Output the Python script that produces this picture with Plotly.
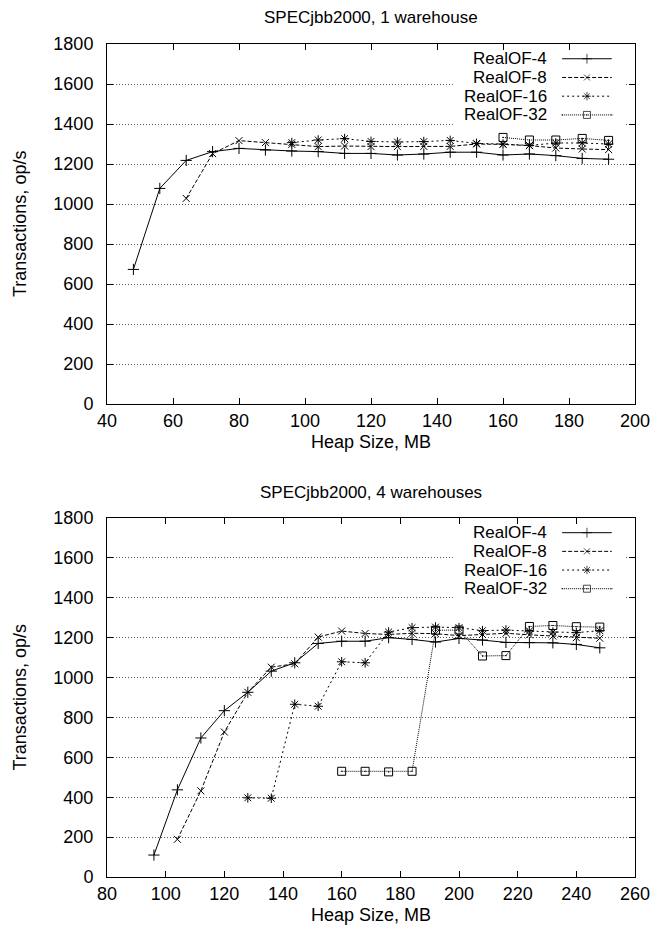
import plotly.graph_objects as go

# ---------------- data ----------------
series_names = ["RealOF-4", "RealOF-8", "RealOF-16", "RealOF-32"]

# Chart 1: SPECjbb2000, 1 warehouse
heap_1_of4 = [48, 56, 64, 72, 80, 88, 96, 104, 112, 120, 128, 136, 144, 152, 160, 168, 176, 184, 192]
tps_1_of4 = [673, 1078, 1218, 1262, 1278, 1270, 1265, 1262, 1253, 1253, 1245, 1250, 1259, 1259, 1245, 1250, 1242, 1228, 1224]
heap_1_of8 = [64, 72, 80, 88, 96, 104, 112, 120, 128, 136, 144, 152, 160, 168, 176, 184, 192]
tps_1_of8 = [1028, 1252, 1317, 1307, 1298, 1287, 1290, 1287, 1287, 1288, 1288, 1300, 1298, 1292, 1280, 1275, 1272]
heap_1_of16 = [96, 104, 112, 120, 128, 136, 144, 152, 160, 168, 176, 184, 192]
tps_1_of16 = [1307, 1320, 1327, 1313, 1310, 1312, 1318, 1303, 1300, 1293, 1305, 1305, 1300]
heap_1_of32 = [160, 168, 176, 184, 192]
tps_1_of32 = [1333, 1320, 1320, 1328, 1318]

# Chart 2: SPECjbb2000, 4 warehouses
heap_4_of4 = [96, 104, 112, 120, 128, 136, 144, 152, 160, 168, 176, 184, 192, 200, 208, 216, 224, 232, 240, 248]
tps_4_of4 = [110, 437, 697, 834, 926, 1032, 1074, 1171, 1182, 1182, 1200, 1191, 1178, 1196, 1188, 1176, 1175, 1174, 1166, 1149]
heap_4_of8 = [104, 112, 120, 128, 136, 144, 152, 160, 168, 176, 184, 192, 200, 208, 216, 224, 232, 240, 248]
tps_4_of8 = [189, 432, 727, 926, 1052, 1069, 1203, 1233, 1221, 1216, 1222, 1220, 1210, 1216, 1222, 1214, 1208, 1200, 1197]
heap_4_of16 = [128, 136, 144, 152, 160, 168, 176, 184, 192, 200, 208, 216, 224, 232, 240, 248]
tps_4_of16 = [397, 395, 866, 856, 1079, 1074, 1228, 1250, 1253, 1250, 1235, 1238, 1233, 1228, 1225, 1235]
heap_4_of32 = [160, 168, 176, 184, 192, 200, 208, 216, 224, 232, 240, 248]
tps_4_of32 = [530, 530, 527, 530, 1237, 1238, 1108, 1110, 1256, 1261, 1255, 1253]

titles = ["SPECjbb2000, 1 warehouse", "SPECjbb2000, 4 warehouses"]
x_title = "Heap Size, MB"
y_title = "Transactions, op/s"

# ---------------- styles ----------------
FONT = "Liberation Sans, Arial, sans-serif"
FS = 18
FS_KEY = 17
dashes = ["solid", "4px,2px", "2px,3px", "1px,1px"]
symbols = ["cross-thin-open", "x-thin-open", "asterisk-open", "square-open-dot"]
msizes = [8, 7, 8, 8]

charts = [
    ([heap_1_of4, heap_1_of8, heap_1_of16, heap_1_of32], [tps_1_of4, tps_1_of8, tps_1_of16, tps_1_of32]),
    ([heap_4_of4, heap_4_of8, heap_4_of16, heap_4_of32], [tps_4_of4, tps_4_of8, tps_4_of16, tps_4_of32]),
]

fig = go.Figure()

axis_ids = [("x", "y", "x3", "y3"), ("x2", "y2", "x4", "y4")]
rows_y = [0.959, 0.907, 0.855, 0.803]

for ci, (xs_list, ys_list) in enumerate(charts):
    xa, ya, lxa, lya = axis_ids[ci]
    for si in range(4):
        fig.add_trace(go.Scatter(
            x=xs_list[si], y=ys_list[si], mode="lines+markers",
            xaxis=xa, yaxis=ya, showlegend=False, name=series_names[si],
            line=dict(color="black", width=1, dash=dashes[si]),
            marker=dict(symbol=symbols[si], size=msizes[si], color="black",
                        line=dict(color="black", width=1)),
        ))
    # white key box (covers gridlines, drawn on overlay axes)
    fig.add_trace(go.Scatter(
        x=[0.655, 0.979, 0.979, 0.655, 0.655], y=[0.772, 0.772, 0.994, 0.994, 0.772],
        mode="lines", fill="toself", fillcolor="white", line=dict(width=0, color="white"),
        xaxis=lxa, yaxis=lya, showlegend=False, hoverinfo="skip",
    ))
    # custom gnuplot-like key (text left, sample right)
    for si in range(4):
        fig.add_trace(go.Scatter(
            x=[0.862, 0.909, 0.956], y=[rows_y[si]] * 3, mode="lines+markers",
            xaxis=lxa, yaxis=lya, showlegend=False, hoverinfo="skip",
            line=dict(color="black", width=1, dash=dashes[si]),
            marker=dict(symbol=symbols[si], size=[0, msizes[si] - 1, 0], color="black",
                        line=dict(color="black", width=1)),
        ))
        fig.add_annotation(
            text=series_names[si], xref=f"{xa} domain", yref=f"{ya} domain",
            x=0.838, y=rows_y[si], xanchor="right", yanchor="middle", showarrow=False,
            font=dict(family=FONT, size=FS_KEY, color="black"),
        )
    # titles
    fig.add_annotation(text=titles[ci], xref=f"{xa} domain", yref=f"{ya} domain",
                       x=0.5, y=1.0 + 26 / 360, xanchor="center", yanchor="middle",
                       showarrow=False, font=dict(family=FONT, size=17, color="black"))
    fig.add_annotation(text=x_title, xref=f"{xa} domain", yref=f"{ya} domain",
                       x=0.5, y=-38 / 360, xanchor="center", yanchor="middle",
                       showarrow=False, font=dict(family=FONT, size=FS, color="black"))
    fig.add_annotation(text=y_title, xref="paper", yref=f"{ya} domain",
                       x=(19 - 107) / 534, y=0.5, xanchor="center", yanchor="middle",
                       textangle=-90, showarrow=False,
                       font=dict(family=FONT, size=FS, color="black"))

common_x = dict(showgrid=False, zeroline=False, showline=True, linecolor="black", linewidth=1,
                mirror="ticks", ticks="inside", ticklen=6, tickcolor="black", tickwidth=1,
                dtick=20, tickfont=dict(family=FONT, size=FS, color="black"))
common_y = dict(showgrid=True, gridcolor="#555555", griddash="1px,2px", gridwidth=1,
                zeroline=False, showline=True, linecolor="black", linewidth=1,
                mirror="ticks", ticks="inside", ticklen=6, tickcolor="black", tickwidth=1,
                range=[0, 1800], dtick=200, tickfont=dict(family=FONT, size=FS, color="black"),
                ticklabelstandoff=9)

top_dom = [0.5678, 1.0]
bot_dom = [0.0, 0.431]

# page body has an 8px default margin, so the figure is 8px smaller and margins shifted
fig.update_layout(
    width=654, height=931,
    margin=dict(l=99, r=21, t=36, b=62),
    paper_bgcolor="white", plot_bgcolor="white",
    showlegend=False,
    xaxis=dict(**common_x, range=[40, 200], domain=[0, 1], anchor="y"),
    yaxis=dict(**common_y, domain=top_dom, anchor="x"),
    xaxis2=dict(**common_x, range=[80, 260], domain=[0, 1], anchor="y2"),
    yaxis2=dict(**common_y, domain=bot_dom, anchor="x2"),
    xaxis3=dict(range=[0, 1], overlaying="x", anchor="y3", visible=False),
    yaxis3=dict(range=[0, 1], overlaying="y", anchor="x3", visible=False),
    xaxis4=dict(range=[0, 1], overlaying="x2", anchor="y4", visible=False),
    yaxis4=dict(range=[0, 1], overlaying="y2", anchor="x4", visible=False),
)

fig.write_html("out.html")
